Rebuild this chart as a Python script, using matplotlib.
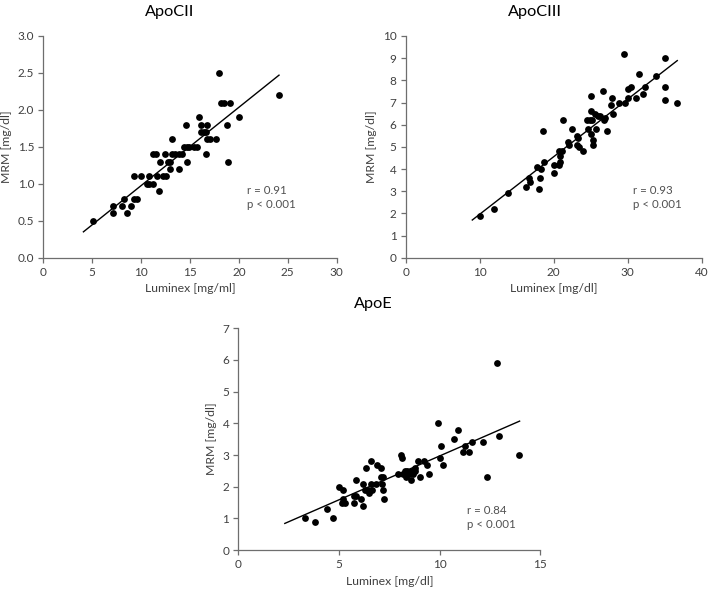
import matplotlib
matplotlib.use("Agg")
import matplotlib.pyplot as plt
import numpy as np

plt.rcParams['font.family'] = ['Lato', 'DejaVu Sans']

# ApoCII
c2_x = [5.1, 7.1, 7.1, 8.0, 8.25, 8.6, 9.0, 9.3, 9.3, 9.6, 10.0, 10.6, 10.8, 10.8,
        11.2, 11.2, 11.5, 11.6, 11.85, 11.9, 12.2, 12.4, 12.55, 12.8, 13.0, 13.0,
        13.15, 13.2, 13.5, 13.9, 13.9, 14.15, 14.4, 14.6, 14.65, 14.7, 14.9, 15.4,
        15.7, 15.9, 16.1, 16.1, 16.4, 16.6, 16.6, 16.7, 16.7, 17.0, 17.7, 18.0,
        18.2, 18.5, 18.75, 18.85, 19.1, 20.05, 24.1]
c2_y = [0.5, 0.6, 0.7, 0.7, 0.8, 0.6, 0.7, 1.1, 0.8, 0.8, 1.1, 1.0, 1.1, 1.0,
        1.0, 1.4, 1.4, 1.1, 0.9, 1.3, 1.1, 1.4, 1.1, 1.3, 1.3, 1.2,
        1.4, 1.6, 1.4, 1.4, 1.2, 1.4, 1.5, 1.8, 1.5, 1.3, 1.5, 1.5,
        1.5, 1.9, 1.8, 1.7, 1.7, 1.4, 1.7, 1.8, 1.6, 1.6, 1.6, 2.5,
        2.1, 2.1, 1.8, 1.3, 2.1, 1.9, 2.2]
c2_fit_x = [4.1, 24.1]
c2_fit_y = [0.35, 2.47]

# ApoCIII
c3_x = [10.0, 12.0, 13.8, 16.3, 16.7, 16.85, 17.7, 18.05, 18.2, 18.3, 18.55, 18.65,
        20.1, 20.1, 20.7, 20.7, 20.8, 20.9, 21.1, 21.3, 22.0, 22.1, 22.5, 23.1,
        23.2, 23.25, 23.4, 24.0, 24.5, 24.6, 24.9, 25.0, 25.1, 25.1, 25.2, 25.3,
        25.35, 25.6, 25.7, 26.0, 26.2, 26.6, 26.8, 27.0, 27.2, 27.7, 27.9, 28.0,
        28.8, 29.5, 29.7, 30.0, 30.1, 30.5, 31.1, 31.5, 32.1, 32.4, 33.8, 35.1,
        35.0, 35.1, 36.7]
c3_y = [1.9, 2.2, 2.9, 3.2, 3.6, 3.4, 4.1, 3.1, 3.6, 4.0, 5.7, 4.3,
        3.8, 4.2, 4.2, 4.8, 4.3, 4.6, 4.8, 6.2, 5.2, 5.1, 5.8, 5.1,
        5.5, 5.4, 5.0, 4.8, 6.2, 5.8, 6.2, 5.6, 7.3, 6.6, 6.2, 5.1,
        5.3, 6.5, 5.8, 6.4, 6.4, 7.5, 6.2, 6.3, 5.7, 6.9, 7.2, 6.5,
        7.0, 9.2, 7.0, 7.2, 7.6, 7.7, 7.2, 8.3, 7.4, 7.7, 8.2, 9.0,
        7.7, 7.1, 7.0]
c3_fit_x = [9.0, 36.7]
c3_fit_y = [1.70, 8.89]

# ApoE
e_x = [3.3, 3.8, 4.4, 4.7, 5.0, 5.14, 5.2, 5.2, 5.3, 5.74, 5.75, 5.85, 5.87, 6.08,
       6.18, 6.2, 6.28, 6.35, 6.45, 6.5, 6.6, 6.6, 6.66, 6.86, 6.9, 7.09, 7.1,
       7.12, 7.19, 7.2, 7.24, 7.93, 8.1, 8.15, 8.2, 8.3, 8.35, 8.4, 8.47, 8.56,
       8.64, 8.7, 8.76, 8.8, 8.9, 9.04, 9.2, 9.37, 9.45, 9.9, 10.03, 10.07, 10.17,
       10.7, 10.9, 11.14, 11.27, 11.44, 11.62, 12.13, 12.36, 12.86, 12.94, 13.93]
e_y = [1.0, 0.9, 1.3, 1.0, 2.0, 1.5, 1.9, 1.6, 1.5, 1.5, 1.7, 1.7, 2.2, 1.6,
       1.4, 2.1, 1.9, 2.6, 1.9, 1.8, 2.8, 2.1, 1.9, 2.1, 2.7, 2.6, 2.3,
       2.1, 2.3, 1.9, 1.6, 2.4, 3.0, 2.9, 2.4, 2.5, 2.3, 2.5, 2.4, 2.2,
       2.5, 2.4, 2.5, 2.6, 2.8, 2.3, 2.8, 2.7, 2.4, 4.0, 2.9, 3.3, 2.7,
       3.5, 3.8, 3.1, 3.3, 3.1, 3.4, 3.4, 2.3, 5.9, 3.6, 3.0]
e_fit_x = [2.31, 13.97]
e_fit_y = [0.84, 4.07]

panels = [
    dict(title="ApoCII", x=c2_x, y=c2_y, fx=c2_fit_x, fy=c2_fit_y,
         xlim=(0, 30), xt=np.arange(0, 31, 5), ylim=(0, 3), yt=np.arange(0, 3.01, 0.5),
         yfmt="%.1f", xlab="Luminex [mg/ml]", txt="r = 0.91\np < 0.001",
         rect=[0.0611, 0.5647, 0.4138, 0.3745], tx=0.693, ty=0.27, titx=0.432),
    dict(title="ApoCIII", x=c3_x, y=c3_y, fx=c3_fit_x, fy=c3_fit_y,
         xlim=(0, 40), xt=np.arange(0, 41, 10), ylim=(0, 10), yt=np.arange(0, 11, 1),
         yfmt="%d", xlab="Luminex [mg/dl]", txt="r = 0.93\np < 0.001",
         rect=[0.5722, 0.5647, 0.4175, 0.3745], tx=0.767, ty=0.27, titx=0.437),
    dict(title="ApoE", x=e_x, y=e_y, fx=e_fit_x, fy=e_fit_y,
         xlim=(0, 15), xt=np.arange(0, 16, 5), ylim=(0, 7), yt=np.arange(0, 8, 1),
         yfmt="%d", xlab="Luminex [mg/dl]", txt="r = 0.84\np < 0.001",
         rect=[0.3361, 0.0709, 0.426, 0.3745], tx=0.758, ty=0.147, titx=0.446),
]

fig = plt.figure(figsize=(7.09, 5.92), dpi=100)
gray = "#6e6e6e"
for p in panels:
    ax = fig.add_axes(p["rect"])
    ax.scatter(p["x"], p["y"], s=24, color="black", linewidths=0, zorder=3)
    ax.plot(p["fx"], p["fy"], color="black", lw=1.0)
    ax.set_xlim(*p["xlim"])
    ax.set_ylim(*p["ylim"])
    ax.set_xticks(p["xt"])
    ax.set_yticks(p["yt"])
    ax.set_yticklabels([p["yfmt"] % v for v in p["yt"]])
    for s in ["top", "right"]:
        ax.spines[s].set_visible(False)
    for s in ["left", "bottom"]:
        ax.spines[s].set_color(gray)
        ax.spines[s].set_linewidth(0.9)
    ax.tick_params(direction="out", length=3.5, width=0.9, color=gray,
                   labelsize=8.5, labelcolor="#404040", pad=3)
    ax.set_xlabel(p["xlab"], fontsize=8.8, color="#404040", labelpad=4)
    ax.set_ylabel("MRM [mg/dl]", fontsize=8.8, color="#404040", labelpad=4)
    ax.text(p["titx"], 1.11, p["title"], transform=ax.transAxes, ha="center",
            va="center", fontsize=11.7, color="black")
    ax.text(p["tx"], p["ty"], p["txt"], transform=ax.transAxes, ha="left",
            va="center", fontsize=8.3, color="#505050", linespacing=1.3)

fig.savefig("out.png", dpi=100)
